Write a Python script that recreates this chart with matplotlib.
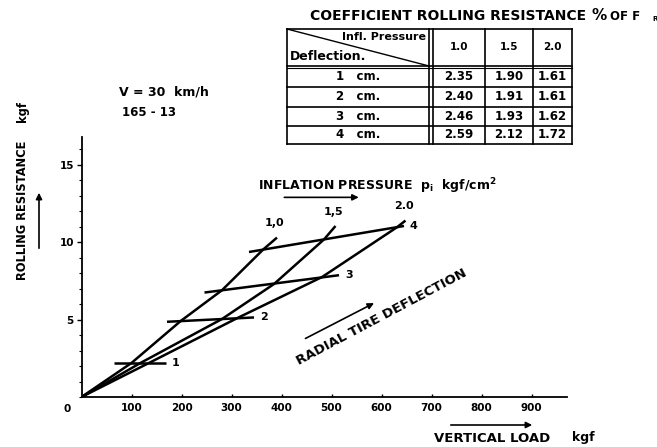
import numpy as np
import matplotlib.pyplot as plt
from matplotlib.ticker import MultipleLocator

# rolling resistance (kgf) vs vertical load (kgf), one curve per inflation pressure
p10_load = [0, 100, 198, 281, 364, 391]
p10_res = [0, 2.2, 4.9, 6.9, 9.55, 10.3]
p15_load = [0, 118, 281, 385, 485, 508]
p15_res = [0, 2.2, 5.04, 7.3, 10.18, 11.05]
p20_load = [0, 135, 311, 481, 631, 648]
p20_res = [0, 2.2, 5.09, 7.75, 10.97, 11.4]
pressure_labels = ["1,0", "1,5", "2.0"]

# constant deflection lines (1..4 cm)
d1_load, d1_res = [65, 168], [2.2, 2.2]
d2_load, d2_res = [171, 345], [4.86, 5.14]
d3_load, d3_res = [246, 515], [6.75, 7.87]
d4_load, d4_res = [335, 645], [9.37, 11.05]
deflection_labels = ["1", "2", "3", "4"]

# table: coefficient rolling resistance % of F_R
table_rows = ["1   cm.", "2   cm.", "3   cm.", "4   cm."]
table_cols = ["1.0", "1.5", "2.0"]
table_vals = [["2.35", "1.90", "1.61"],
              ["2.40", "1.91", "1.61"],
              ["2.46", "1.93", "1.62"],
              ["2.59", "2.12", "1.72"]]

W, H = 657, 447
fig = plt.figure(figsize=(W / 100, H / 100), dpi=100, facecolor='white')
plt.rcParams['font.family'] = ['DejaVu Sans']
fw = 'bold'

ax = fig.add_axes([81.5 / W, 50 / H, 485 / W, 260 / H])
ax.set_xlim(0, 970)
ax.set_ylim(0, 16.8)
for s in ['top', 'right']:
    ax.spines[s].set_visible(False)
for s in ['left', 'bottom']:
    ax.spines[s].set_linewidth(1.3)

ax.set_xticks(range(100, 1000, 100))
ax.set_xticklabels([str(v) for v in range(100, 1000, 100)], fontsize=7.5, fontweight=fw)
ax.tick_params(axis='x', direction='in', length=2.5, width=1, pad=4)
ax.set_yticks([5, 10, 15])
ax.set_yticklabels(["5", "10", "15"], fontsize=7.5, fontweight=fw)
ax.yaxis.set_minor_locator(MultipleLocator(1))
ax.tick_params(axis='y', which='major', direction='out', length=3.5, width=1, pad=2)
ax.tick_params(axis='y', which='minor', direction='out', length=2, width=0.8)

lw = 1.8
for xs, ys in [(p10_load, p10_res), (p15_load, p15_res), (p20_load, p20_res)]:
    ax.plot(xs, ys, color='black', lw=lw, solid_capstyle='butt')
for xs, ys in [(d1_load, d1_res), (d2_load, d2_res), (d3_load, d3_res), (d4_load, d4_res)]:
    ax.plot(xs, ys, color='black', lw=lw, solid_capstyle='butt')

# curve end labels
for xs, ys, lab in zip([p10_load, p15_load, p20_load], [p10_res, p15_res, p20_res], pressure_labels):
    ax.text(xs[-1] - 4, ys[-1] + 0.6, lab, fontsize=8, fontweight=fw, ha='center', va='bottom')
for xs, ys, lab in zip([d1_load, d2_load, d3_load, d4_load], [d1_res, d2_res, d3_res, d4_res],
                       deflection_labels):
    ax.text(xs[-1] + 12, ys[-1], lab, fontsize=8, fontweight=fw, ha='left', va='center')

ax.text(353, 13.6, r"INFLATION PRESSURE  p$_\mathregular{i}$  kgf/cm$^\mathregular{2}$",
        fontsize=9, fontweight=fw, ha='left', va='center')
ax.annotate("", xy=(560, 12.9), xytext=(400, 12.9),
            arrowprops=dict(arrowstyle='-|>', color='black', lw=1.2, mutation_scale=9))
ax.text(600, 5.15, "RADIAL TIRE DEFLECTION", fontsize=9.5, fontweight=fw,
        rotation=28, rotation_mode='anchor', ha='center', va='center')
ax.annotate("", xy=(590, 6.15), xytext=(443, 3.7),
            arrowprops=dict(arrowstyle='-|>', color='black', lw=1.2, mutation_scale=9))

# overlay in pixel coordinates for labels and table
ov = fig.add_axes([0, 0, 1, 1])
ov.set_xlim(0, W)
ov.set_ylim(H, 0)
ov.axis('off')
ov.patch.set_alpha(0)

ov.text(67, 409, "0", fontsize=7.5, fontweight=fw, ha='center', va='center')
ov.text(23, 210, "ROLLING RESISTANCE", fontsize=8.3, fontweight=fw, rotation=90,
        ha='center', va='center')
ov.text(22, 112, "kgf", fontsize=8.3, fontweight=fw, rotation=90, ha='center', va='center')
ov.annotate("", xy=(39, 190), xytext=(39, 251),
            arrowprops=dict(arrowstyle='-|>', color='black', lw=1.2, mutation_scale=9))

ov.text(434, 438, "VERTICAL LOAD", fontsize=9.5, fontweight=fw, ha='left', va='center')
ov.text(572, 438, "kgf", fontsize=9, fontweight=fw, ha='left', va='center')
ov.annotate("", xy=(535, 425), xytext=(448, 425),
            arrowprops=dict(arrowstyle='-|>', color='black', lw=1.2, mutation_scale=9))

ov.text(119, 92, "V = 30  km/h", fontsize=9, fontweight=fw, ha='left', va='center')
ov.text(122, 113, "165 - 13", fontsize=8.5, fontweight=fw, ha='left', va='center')

# table title
ov.text(310, 16, "COEFFICIENT ROLLING RESISTANCE", fontsize=10, fontweight=fw,
        ha='left', va='center')
ov.text(591, 15, "%", fontsize=11, fontweight=fw, ha='left', va='center')
ov.text(610, 16, "OF F", fontsize=8.5, fontweight=fw, ha='left', va='center')
ov.text(652, 19, "R", fontsize=5, fontweight=fw, ha='left', va='center')

# table grid
tl, tr = 287, 572
col_x = [tl, 429, 485, 533, tr]
row_y = [29, 66, 87, 107, 126, 144]
tk = dict(color='black', lw=1.2)
for y in row_y:
    ov.plot([tl, tr], [y, y], **tk)
ov.plot([tl, tr], [68, 68], color='black', lw=0.8)
for x in col_x:
    ov.plot([x, x], [row_y[0], row_y[-1]], **tk)
ov.plot([433, 433], [row_y[0], row_y[-1]], **tk)
ov.plot([tl, 429], [row_y[0], row_y[1]], color='black', lw=1.0)
ov.text(426, 37, "Infl. Pressure", fontsize=8, fontweight=fw, ha='right', va='center')
ov.text(290, 57, "Deflection.", fontsize=9, fontweight=fw, ha='left', va='center')

col_c = [459, 509, 552]
for cx, lab in zip(col_c, table_cols):
    ov.text(cx, 47, lab, fontsize=7.5, fontweight=fw, ha='center', va='center')
for i, (rlab, vals) in enumerate(zip(table_rows, table_vals)):
    cy = (row_y[i + 1] + row_y[i + 2]) / 2
    ov.text(358, cy, rlab, fontsize=8.5, fontweight=fw, ha='center', va='center')
    for cx, v in zip(col_c, vals):
        ov.text(cx, cy, v, fontsize=8.5, fontweight=fw, ha='center', va='center')

fig.savefig("out.png", dpi=100, facecolor='white')
